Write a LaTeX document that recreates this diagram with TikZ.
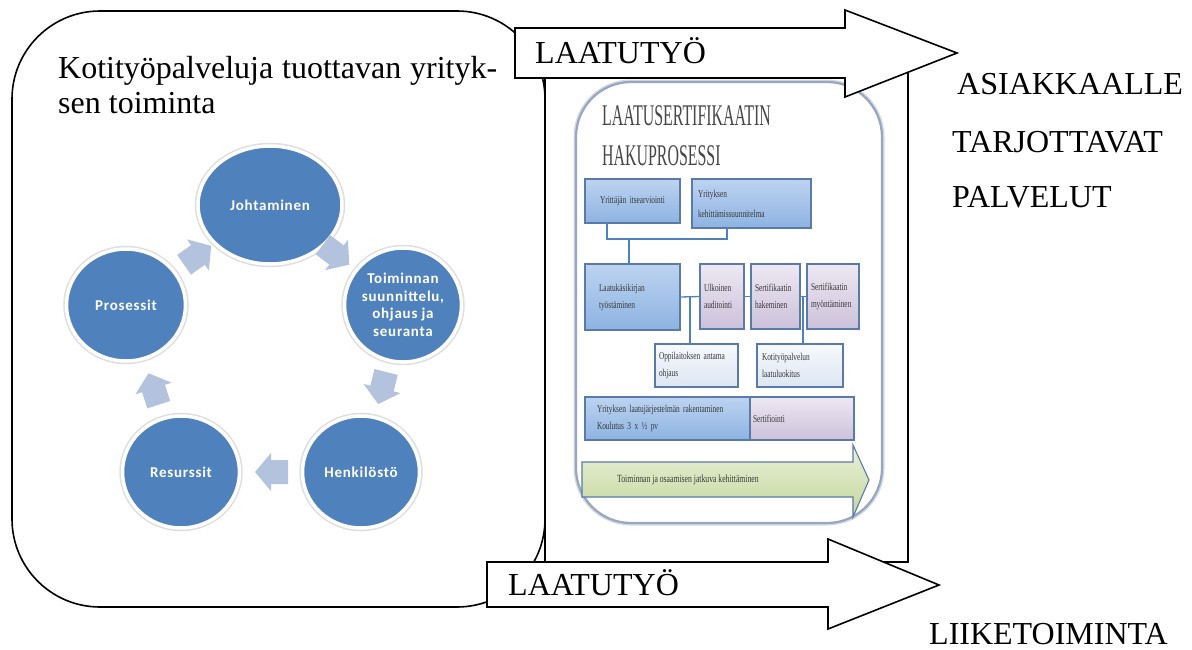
\documentclass[tikz,border=0pt]{standalone}
\usepackage{fontspec}
\setmainfont{Liberation Serif}
\newfontfamily\calb[LetterSpace=5]{Carlito}
\newfontfamily\ttlf[FakeStretch=0.53]{Liberation Serif}
\newfontfamily\smf[FakeStretch=0.7]{Liberation Serif}
\usetikzlibrary{shapes.geometric,calc}
\definecolor{cblue}{HTML}{4F81BD}
\definecolor{carr}{HTML}{B3C3DE}
\definecolor{bxa}{HTML}{BDD3F0}
\definecolor{bxb}{HTML}{8DB3E2}
\definecolor{lva}{HTML}{EEE8F3}
\definecolor{lvb}{HTML}{CCC1DA}
\definecolor{lta}{HTML}{F7F9FD}
\definecolor{ltb}{HTML}{DCE6F2}
\definecolor{gra}{HTML}{EAF1D9}
\definecolor{grb}{HTML}{C3D69B}
\definecolor{bxd}{HTML}{5A7AA8}
\definecolor{plc}{HTML}{4F81BD}
\definecolor{txtg}{HTML}{383838}
\definecolor{ttlg}{HTML}{474747}
\definecolor{pnl}{HTML}{98A6C0}
\tikzset{
  outl/.style={draw=black, line width=1.6pt, line join=miter},
  bigtxt/.style={anchor=base west, inner sep=0, font=\fontsize{32}{35}\selectfont},
  circ/.style={ellipse, fill=cblue, draw=white, line width=3.5pt,
    preaction={draw=black!13, line width=6.5pt}, text=white, inner sep=-12pt,
    font=\calb\bfseries\fontsize{15}{17.5}\selectfont, align=center},
  cyc/.pic={\fill[carr] (-17,-12) -- (0,-12) -- (0,-19) -- (16,0) -- (0,19) -- (0,12) -- (-17,12) -- cycle;},
  pbox/.style={anchor=north west, inner ysep=0pt, outer sep=0pt, draw=bxd, line width=1.1pt,
    font=\smf\fontsize{10.5}{17}\selectfont, text=txtg, align=left},
  bluebox/.style={pbox, top color=bxa, bottom color=bxb},
  lavbox/.style={pbox, top color=lva, bottom color=lvb},
  litbox/.style={pbox, top color=lta, bottom color=ltb},
  pline/.style={draw=plc, line width=1.3pt},
}
\begin{document}
\begin{tikzpicture}[x=1pt,y=1pt]
\useasboundingbox (0,0) rectangle (1192,-649);

% outer rounded frame of the company activity
\draw[outl, rounded corners=88pt] (12,-11) rectangle (545,-607);
% frame of the embedded process picture
\draw[outl] (545,-60) rectangle (908,-562);

% embedded panel
\draw[draw=pnl!45, line width=5pt, rounded corners=55pt] (576,-82) rectangle (882,-523);
\draw[draw=pnl, line width=2.2pt, fill=white, rounded corners=55pt] (576,-82) rectangle (882,-523);
\node[anchor=base west, inner sep=0, text=ttlg, font=\ttlf\fontsize{30}{36}\selectfont] (t1) at (602,-125) {LAATUSERTIFIKAATIN};
\node[anchor=base west, inner sep=0, text=ttlg, font=\ttlf\fontsize{30}{36}\selectfont] (t2) at (602,-165) {HAKUPROSESSI};

\node[bluebox, minimum width=95pt, minimum height=44pt, inner xsep=3pt, text width=89pt, align=center] (b1) at (585,-179) {Yrittäjän itsearviointi};
\node[bluebox, minimum width=119pt, minimum height=49pt, inner xsep=6pt, text width=107pt, font=\smf\fontsize{10.5}{20}\selectfont] (b2) at (692,-179) {Yrityksen\\kehittämissuunnitelma};
\node[bluebox, minimum width=95pt, minimum height=66pt, inner xsep=14pt, text width=67pt] (b3) at (585,-264) {Laatukäsikirjan\\työstäminen};
\node[lavbox, minimum width=44pt, minimum height=65pt, inner xsep=4pt, text width=36pt] (b4) at (700,-264) {Ulkoinen\\auditointi};
\node[lavbox, minimum width=49pt, minimum height=65pt, inner xsep=4pt, text width=41pt] (b5) at (751,-264) {Sertifikaatin\\hakeminen};
\node[lavbox, minimum width=52pt, minimum height=65pt, inner xsep=4pt, text width=44pt] (b6) at (807,-264) {Sertifikaatin\\myöntäminen};
\node[litbox, minimum width=83pt, minimum height=43pt, inner xsep=4pt, text width=75pt] (b7) at (655,-344) {Oppilaitoksen antama\\ohjaus};
\node[litbox, minimum width=86pt, minimum height=43pt, inner xsep=5pt, text width=76pt] (b8) at (757,-344) {Kotityöpalvelun\\laatuluokitus};
\node[bluebox, minimum width=165pt, minimum height=43pt, inner xsep=12pt, text width=141pt] (b9) at (585,-397) {Yrityksen laatujärjestelmän rakentaminen\\Koulutus 3 x ½ pv};
\node[lavbox, minimum width=104pt, minimum height=43pt, inner xsep=3pt, text width=98pt] (b10) at (750,-397) {Sertifiointi};

% connectors in the panel
\coordinate (j1) at (607,-239);
\coordinate (j2) at (727,-239);
\coordinate (j3) at (629,-239);
\draw[pline] (j1 |- b1.south) -- (j1) -- (j2) -- (j2 |- b2.south);
\draw[pline] (j3) -- (j3 |- b3.north);
\draw[pline] (b3.east) -- (b4.west);
\draw[pline] (b4.east) -- (b5.west);
\draw[pline] (b5.east) -- (b6.west);
\coordinate (k1) at (690,-297);
\coordinate (k2) at (803,-297);
\draw[pline] (k1) -- (k1 |- b7.north);
\draw[pline] (k2) -- (k2 |- b8.north);

% green arrow
\draw[draw=bxd, line width=1.1pt, top color=gra, bottom color=grb]
  (582,-462) -- (853,-462) -- (853,-445) -- (869,-480) -- (853,-517) -- (853,-497) -- (582,-497) -- cycle;
\node[anchor=west, inner sep=0, font=\smf\fontsize{11}{13}\selectfont, text=txtg] (g1) at (617,-480) {Toiminnan ja osaamisen jatkuva kehittäminen};

% cycle of circles
\node[circ, minimum width=144pt, minimum height=118pt] (joh) at (270,-205) {Johtaminen};
\node[circ, minimum width=117pt, minimum height=114pt] (toi) at (403,-305) {Toiminnan\\suunnittelu,\\ohjaus ja\\seuranta};
\node[circ, minimum width=117pt, minimum height=112pt] (hen) at (361,-472) {Henkilöstö};
\node[circ, minimum width=117pt, minimum height=112pt] (res) at (181,-472) {Resurssit};
\node[circ, minimum width=119pt, minimum height=112pt] (pro) at (126,-305) {Prosessit};
\pic[rotate=35] at ($(pro)!0.5!(joh)$) {cyc};
\pic[rotate=-37] at ($(joh)!0.5!(toi)$) {cyc};
\pic[rotate=-104] at ($(toi)!0.5!(hen)$) {cyc};
\pic[rotate=180] at ($(hen)!0.5!(res)$) {cyc};
\pic[rotate=108] at ($(res)!0.5!(pro)$) {cyc};

% title of the left box
\node[bigtxt] (h1) at (58,-78) {\makebox[439pt][s]{Kotityöpalveluja tuottavan yrityk-}};
\node[bigtxt] (h2) at (58,-113) {sen toiminta};

% big arrows
\draw[outl, fill=white] (515,-28) -- (845,-28) -- (845,-10) -- (957,-53) -- (845,-97) -- (845,-78) -- (515,-78) -- cycle;
\node[bigtxt] (l1) at (535,-63.5) {LAATUTYÖ};
\draw[outl, fill=white] (487,-562) -- (828,-562) -- (828,-539) -- (939,-585) -- (828,-629) -- (828,-607) -- (487,-607) -- cycle;
\node[bigtxt] (l2) at (508,-595) {LAATUTYÖ};

% right-hand labels
\node[bigtxt] (r1) at (957,-94) {ASIAKKAALLE};
\node[bigtxt] (r2) at (952,-152) {TARJOTTAVAT};
\node[bigtxt] (r3) at (952,-207) {PALVELUT};
\node[bigtxt] (r4) at (929,-644) {LIIKETOIMINTA};
\end{tikzpicture}
\end{document}
